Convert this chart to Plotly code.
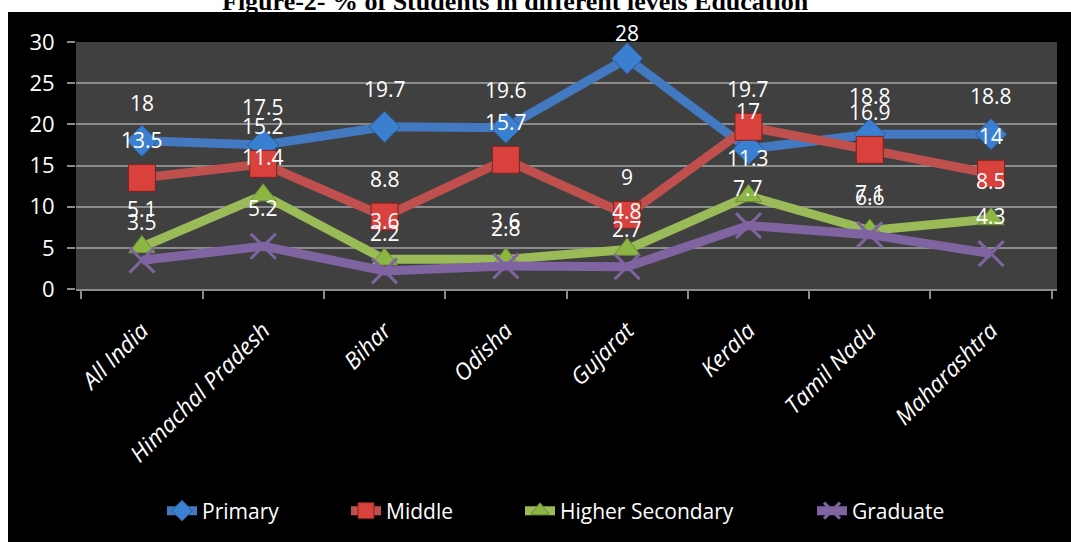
import plotly.graph_objects as go

categories = ["All India", "Himachal Pradesh", "Bihar", "Odisha", "Gujarat",
              "Kerala", "Tamil Nadu", "Maharashtra"]
primary = [18, 17.5, 19.7, 19.6, 28, 17, 18.8, 18.8]
middle = [13.5, 15.2, 8.8, 15.7, 9, 19.7, 16.9, 14]
higher_secondary = [5.1, 11.4, 3.6, 3.6, 4.8, 11.3, 7.1, 8.5]
graduate = [3.5, 5.2, 2.2, 2.8, 2.7, 7.7, 6.6, 4.3]
series_names = ["Primary", "Middle", "Higher Secondary", "Graduate"]
y_ticks = [0, 5, 10, 15, 20, 25, 30]
title_text = "Figure-2- % of Students in different levels Education"

W, H = 1071, 542
ML, MR, MT, MB = 76, 14, 42, 252
PW, PH = W - ML - MR, H - MT - MB
Y_MAX = 30
SANS = "Open Sans, Lato, sans-serif"
LABEL_SHIFT = 38      # label offset above its marker (px)
LABEL_TOP_LIMIT = 33  # labels are kept inside the chart area (px from top)


def px_x(px):
    return (px - ML) / PW


def px_y(py):
    return (H - MB - py) / PH


styles = [
    dict(color="#4379C0", symbol="diamond", size=24, fill="#3A7FD0", mline="#2B5A94", mw=1),
    dict(color="#C0504D", symbol="square", size=27, fill="#D9413C", mline="#7A2220", mw=1),
    dict(color="#9BBB59", symbol="triangle-up", size=23, fill="#8DB544", mline="#6E8A35", mw=1),
    dict(color="#8064A2", symbol="x-thin-open", size=25, fill=None, mline="#6A4E8E", mw=3),
]
legend_text_x = [202, 386, 560, 852]  # pixel position where each legend label starts
legend_ids = ["legend", "legend2", "legend3", "legend4"]

fig = go.Figure()
all_values = [primary, middle, higher_secondary, graduate]
for name, vals, st, lid in zip(series_names, all_values, styles, legend_ids):
    if st["fill"] is None:
        mk = dict(symbol=st["symbol"], size=st["size"],
                  line=dict(color=st["mline"], width=st["mw"]))
    else:
        mk = dict(symbol=st["symbol"], size=st["size"], color=st["fill"],
                  line=dict(color=st["mline"], width=st["mw"]))
    fig.add_trace(go.Scatter(
        x=categories, y=vals, name=name, mode="lines+markers",
        line=dict(color=st["color"], width=9),
        marker=mk, legend=lid,
    ))

annotations = []
for vals in all_values:
    for c, v in zip(categories, vals):
        marker_px = (H - MB) - v * PH / Y_MAX
        shift = min(LABEL_SHIFT, marker_px - LABEL_TOP_LIMIT)
        annotations.append(dict(
            x=c, y=v, xref="x", yref="y", text=f"{v:g}", showarrow=False,
            yshift=shift, font=dict(family=SANS, size=21, color="white"),
        ))

annotations.append(dict(
    x=px_x(515), y=px_y(1), xref="paper", yref="paper", text="<b>" + title_text + "</b>",
    showarrow=False, xanchor="center", yanchor="middle",
    font=dict(family="Liberation Serif, Times New Roman, serif", size=26, color="black"),
))

shapes = [
    dict(type="rect", xref="paper", yref="paper", x0=px_x(0), x1=px_x(W),
         y0=px_y(12), y1=px_y(-5), fillcolor="white", line=dict(width=0), layer="below"),
    dict(type="rect", xref="paper", yref="paper", x0=px_x(-5), x1=px_x(8),
         y0=px_y(H + 5), y1=px_y(-5), fillcolor="white", line=dict(width=0), layer="below"),
]

legend_common = dict(orientation="h", xanchor="left", y=px_y(511), yanchor="middle",
                     font=dict(family=SANS, size=21, color="white"),
                     bgcolor="rgba(0,0,0,0)", borderwidth=0)
layout_legends = {}
for lid, tx in zip(legend_ids, legend_text_x):
    layout_legends[lid] = dict(legend_common, x=px_x(tx - 40))

fig.update_layout(
    width=W, height=H,
    margin=dict(l=ML, r=MR, t=MT, b=MB, pad=0),
    paper_bgcolor="black",
    plot_bgcolor="#404040",
    showlegend=True,
    annotations=annotations,
    shapes=shapes,
    xaxis=dict(
        type="category", showgrid=False, showline=True, linecolor="#8C8C8C", linewidth=2,
        ticks="outside", tickson="boundaries", ticklen=8, tickcolor="#8C8C8C", tickwidth=2,
        tickangle=-45, ticklabelstandoff=17,
        tickfont=dict(family=SANS, size=23, color="white", style="italic"),
        zeroline=False, fixedrange=True,
    ),
    yaxis=dict(
        range=[0, Y_MAX], tickvals=y_ticks, showgrid=True, gridcolor="#8C8C8C", gridwidth=1.5,
        ticks="outside", ticklen=8, tickcolor="#8C8C8C", tickwidth=1.5, showline=False,
        zeroline=False, ticklabelstandoff=8,
        tickfont=dict(family=SANS, size=22, color="white"),
    ),
    **layout_legends,
)

fig.write_html("out.html")
